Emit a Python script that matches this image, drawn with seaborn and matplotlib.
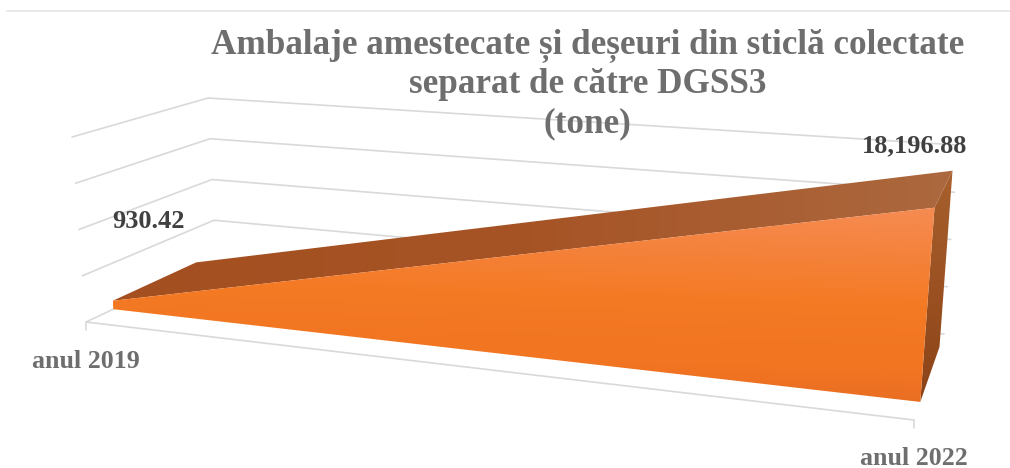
import numpy as np
import pandas as pd
import matplotlib
matplotlib.use("Agg")
import matplotlib.pyplot as plt
from matplotlib.colors import LinearSegmentedColormap
from matplotlib.patches import Polygon
import seaborn as sns

# ---- data ----
categories = ["anul 2019", "anul 2022"]
tonnes = [930.42, 18196.88]
value_ticks = [0, 5000, 10000, 15000, 20000]
title_lines = ["Ambalaje amestecate și deșeuri din sticlă colectate",
               "separat de către DGSS3", "(tone)"]

# ---- pseudo-3D scale: pixel position of the plot box corners ----
# key: (category fraction, value fraction, depth fraction)
BOX = {
    (0, 0, 0): (86, 322), (0, 1, 0): (72, 137),
    (0, 0, 1): (216, 261), (0, 1, 1): (208, 98),
    (1, 0, 0): (914, 420), (1, 1, 0): (930, 200),
    (1, 0, 1): (944, 334), (1, 1, 1): (958, 145),
}
VMAX = value_ticks[-1]
DEPTH_FRONT, DEPTH_BACK = 0.21, 0.85


def project(cat, value, depth):
    """Map chart coordinates to pixels by trilinear interpolation of the box."""
    v = value / VMAX
    out = np.zeros(2)
    for (a, b, c), p in BOX.items():
        w = (cat if a else 1 - cat) * (v if b else 1 - v) * (depth if c else 1 - depth)
        out += w * np.array(p, float)
    return tuple(out)


sns.set_theme(style="white")
plt.rcParams["font.family"] = ["Liberation Serif", "DejaVu Serif"]
fig = plt.figure(figsize=(10.10, 4.68), dpi=100)
ax = fig.add_axes([0, 0, 1, 1])
ax.set_xlim(0, 1010)
ax.set_ylim(468, 0)
ax.axis("off")

# ---- gridlines on left wall and back wall, plus front floor edge ----
rows = []
for t in value_ticks:
    pts = [project(0, t, 0), project(0, t, 1), project(1, t, 1)]
    if t == 0:
        pts = [project(1, t, 0), project(0, t, 0), project(0, t, 1), project(1, t, 1)]
    for order, (px, py) in enumerate(pts):
        rows.append({"px": px, "py": py, "level": t, "order": order})
grid = pd.DataFrame(rows)
sns.lineplot(data=grid, x="px", y="py", units="level", estimator=None, sort=False,
             color="#D9D9D9", linewidth=1.2, ax=ax, legend=False, zorder=1)
ax.set_xlabel("")
ax.set_ylabel("")
# category tick marks
for i in range(len(categories)):
    x0, y0 = project(i, 0, 0)
    ax.plot([x0, x0], [y0, y0 + 8], color="#D9D9D9", lw=1.2, zorder=1)


# ---- area body ----
def gradient_poly(pts, stops, box, angle=0.0, horizontal=False, zorder=3):
    x0, x1, y0, y1 = box
    yy, xx = np.mgrid[0:1:200j, 0:1:200j]
    grad = xx if horizontal else yy + angle * xx
    grad = (grad - grad.min()) / (grad.max() - grad.min())
    cmap = LinearSegmentedColormap.from_list("g", stops)
    im = ax.imshow(grad, cmap=cmap, extent=(x0, x1, y1, y0), aspect="auto",
                   zorder=zorder, interpolation="bilinear")
    patch = Polygon(pts, closed=True, transform=ax.transData, fc="none", ec="none")
    ax.add_patch(patch)
    im.set_clip_path(patch)


fl = project(0, tonnes[0], DEPTH_FRONT)
fr = project(1, tonnes[1], DEPTH_FRONT)
bl = project(0, tonnes[0], DEPTH_BACK)
br = project(1, tonnes[1], DEPTH_BACK)
fl0 = project(0, 0, DEPTH_FRONT)
fr0 = project(1, 0, DEPTH_FRONT)
br0 = project(1, 0, DEPTH_BACK)

# right side face
gradient_poly([fr, br, br0, fr0],
              [(0, "#A8602F"), (0.55, "#9A5020"), (1, "#8A4319")],
              (fr0[0], br[0] + 1, br[1], fr0[1]))
# top face
gradient_poly([fl, bl, br, fr],
              [(0, "#A44F20"), (0.5, "#A65426"), (1, "#AC683E")],
              (fl[0], br[0], br[1], fl[1]), horizontal=True)
# front face
gradient_poly([fl, fr, fr0, fl0],
              [(0, "#F68B52"), (0.18, "#F58440"), (0.45, "#F47A24"),
               (0.75, "#F27522"), (1, "#E56A22")],
              (fl0[0], fr[0], fr[1], fr0[1]), angle=-0.12)
ax.set_xlim(0, 1010)
ax.set_ylim(468, 0)

# ---- top rule ----
ax.plot([7, 1010], [11, 11], color="#E4E4E4", lw=1.2, zorder=1)

# ---- text ----
title_color = "#6E6E6E"
for line, y in zip(title_lines, [53, 93, 132]):
    ax.text(587.5, y, line, ha="center", va="baseline", fontsize=25.3,
            fontweight="bold", color=title_color, zorder=5)

label_color = "#404040"
ax.text(148.5, 228, f"{tonnes[0]:,.2f}", ha="center", va="baseline", fontsize=19,
        fontweight="bold", color=label_color, zorder=5)
ax.text(915, 152, f"{tonnes[1]:,.2f}", ha="center", va="baseline", fontsize=19,
        fontweight="bold", color=label_color, zorder=5)
ax.text(85.5, 368, categories[0], ha="center", va="baseline", fontsize=18.6,
        fontweight="bold", color=title_color, zorder=5)
ax.text(913.5, 465, categories[1], ha="center", va="baseline", fontsize=18.6,
        fontweight="bold", color=title_color, zorder=5)

fig.savefig("out.png", dpi=100, facecolor="white")
